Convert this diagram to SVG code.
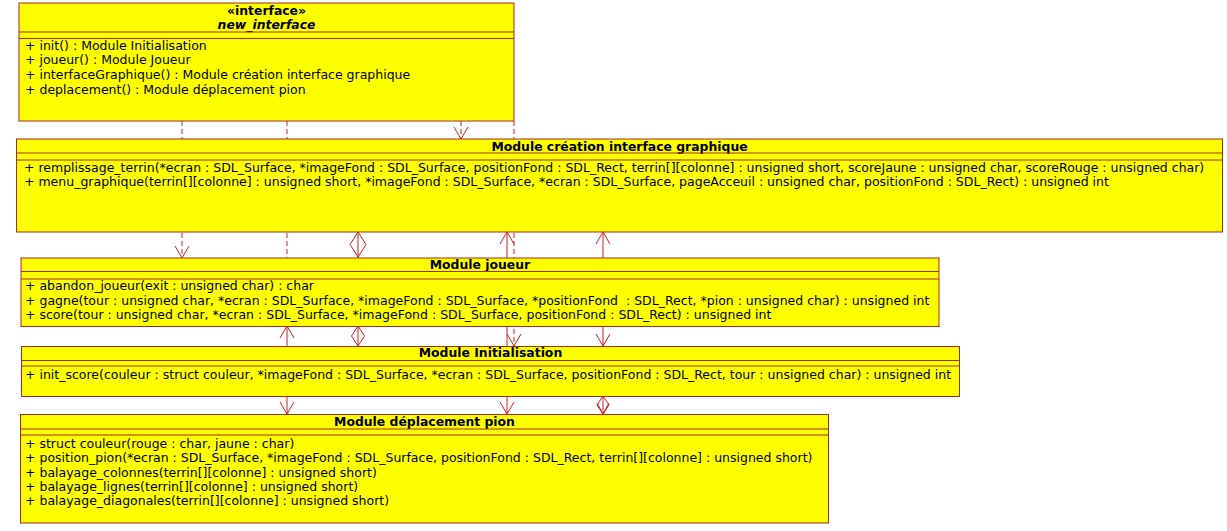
<svg xmlns="http://www.w3.org/2000/svg" width="1227" height="531" viewBox="0 0 1227 531">
<style>
  .box { fill: #ffff00; stroke: #a52a2a; stroke-width: 1; }
  .sep { stroke: #a52a2a; stroke-width: 1; }
  .t { font-family: "DejaVu Sans", sans-serif; font-size: 12.5px; fill: #000; }
  .b { font-family: "DejaVu Sans", sans-serif; font-size: 12.4px; font-weight: bold; fill: #000; text-anchor: middle; }
  .bi { font-style: italic; }
  .c { stroke: #cc2020; stroke-width: 1; fill: none; }
  .d { stroke-dasharray: 5 3; }
  .dia { stroke: #cc2020; stroke-width: 1; fill: #ffffff; }
</style>
<rect x="0" y="0" width="1227" height="531" fill="#ffffff"/>
<g id="connectors">
  <line class="c d" x1="182" y1="121" x2="182" y2="258"/>
  <polyline class="c" points="175,246 182,258 189,246"/>
  <line class="c d" x1="287" y1="121" x2="287" y2="258"/>
  <line class="c d" x1="461" y1="121" x2="461" y2="139"/>
  <polyline class="c" points="454,127 461,139 468,127"/>
  <line class="c d" x1="514" y1="121" x2="514" y2="346"/>
  <polyline class="c" points="507,334 514,346 521,334"/>
  <line class="c" x1="287" y1="326" x2="287" y2="414"/>
  <polyline class="c" points="280,338 287,326 294,338"/>
  <polyline class="c" points="280,402 287,414 294,402"/>
  <line class="c" x1="358" y1="232" x2="358" y2="346"/>
  <polygon class="dia" points="358,232 366,244.5 358,257 350,244.5"/>
  <line class="c" x1="358" y1="232" x2="358" y2="257"/>
  <polygon class="dia" points="358,326 364.5,336 358,346 351.5,336"/>
  <line class="c" x1="358" y1="326" x2="358" y2="346"/>
  <line class="c" x1="507" y1="232" x2="507" y2="414"/>
  <polyline class="c" points="500,244 507,232 514,244"/>
  <polyline class="c" points="500,402 507,414 514,402"/>
  <line class="c" x1="603" y1="232" x2="603" y2="414"/>
  <polyline class="c" points="596,244 603,232 610,244"/>
  <polyline class="c" points="596,334 603,346 610,334"/>
  <polygon class="dia" points="603,396 609,405 603,414 597,405"/>
  <line class="c" x1="603" y1="396" x2="603" y2="414"/>
  <polyline class="c" points="597,403 603,414 609,403"/>
</g>
<g id="new_interface">
  <rect class="box" x="19" y="3" width="495" height="118"/>
  <text class="b" x="266.5" y="14.5">«interface»</text>
  <text class="b bi" x="266.5" y="29">new_interface</text>
  <line class="sep" x1="19" y1="32" x2="514" y2="32"/>
  <line class="sep" x1="19" y1="38.5" x2="514" y2="38.5"/>
  <text class="t" x="25" y="49.5">+ init() : Module Initialisation</text>
  <text class="t" x="25" y="64">+ joueur() : Module Joueur</text>
  <text class="t" x="25" y="78.5">+ interfaceGraphique() : Module création interface graphique</text>
  <text class="t" x="25" y="93.5">+ deplacement() : Module déplacement pion</text>
</g>
<g id="module_creation">
  <rect class="box" x="16.5" y="139" width="1206" height="93"/>
  <text class="b" x="619.5" y="150.5">Module création interface graphique</text>
  <line class="sep" x1="16.5" y1="153" x2="1222.5" y2="153"/>
  <line class="sep" x1="16.5" y1="160" x2="1222.5" y2="160"/>
  <text class="t" x="24" y="171.5">+ remplissage_terrin(*ecran : SDL_Surface, *imageFond : SDL_Surface, positionFond : SDL_Rect, terrin[][colonne] : unsigned short, scoreJaune : unsigned char, scoreRouge : unsigned char)</text>
  <text class="t" x="24" y="186">+ menu_graphique(terrin[][colonne] : unsigned short, *imageFond : SDL_Surface, *ecran : SDL_Surface, pageAcceuil : unsigned char, positionFond : SDL_Rect) : unsigned int</text>
</g>
<g id="module_joueur">
  <rect class="box" x="21" y="258" width="918" height="68.5"/>
  <text class="b" x="480" y="268.8">Module joueur</text>
  <line class="sep" x1="21" y1="271.5" x2="939" y2="271.5"/>
  <line class="sep" x1="21" y1="279" x2="939" y2="279"/>
  <text class="t" x="25" y="289.5">+ abandon_joueur(exit : unsigned char) : char</text>
  <text class="t" x="25" y="304.5">+ gagne(tour : unsigned char, *ecran : SDL_Surface, *imageFond : SDL_Surface, *positionFond&#160; : SDL_Rect, *pion : unsigned char) : unsigned int</text>
  <text class="t" x="25" y="319">+ score(tour : unsigned char, *ecran : SDL_Surface, *imageFond : SDL_Surface, positionFond : SDL_Rect) : unsigned int</text>
</g>
<g id="module_initialisation">
  <rect class="box" x="21.5" y="346.5" width="938" height="50"/>
  <text class="b" x="490.5" y="357.3">Module Initialisation</text>
  <line class="sep" x1="21.5" y1="360.5" x2="959.5" y2="360.5"/>
  <line class="sep" x1="21.5" y1="366" x2="959.5" y2="366"/>
  <text class="t" x="25" y="379.3">+ init_score(couleur : struct couleur, *imageFond : SDL_Surface, *ecran : SDL_Surface, positionFond : SDL_Rect, tour : unsigned char) : unsigned int</text>
</g>
<g id="module_deplacement">
  <rect class="box" x="20.5" y="414.5" width="808" height="108.5"/>
  <text class="b" x="424.5" y="426">Module déplacement pion</text>
  <line class="sep" x1="20.5" y1="429" x2="828.5" y2="429"/>
  <line class="sep" x1="20.5" y1="435" x2="828.5" y2="435"/>
  <text class="t" x="25" y="447.5">+ struct couleur(rouge : char, jaune : char)</text>
  <text class="t" x="25" y="462">+ position_pion(*ecran : SDL_Surface, *imageFond : SDL_Surface, positionFond : SDL_Rect, terrin[][colonne] : unsigned short)</text>
  <text class="t" x="25" y="476.5">+ balayage_colonnes(terrin[][colonne] : unsigned short)</text>
  <text class="t" x="25" y="490.5">+ balayage_lignes(terrin[][colonne] : unsigned short)</text>
  <text class="t" x="25" y="505">+ balayage_diagonales(terrin[][colonne] : unsigned short)</text>
</g>
</svg>
